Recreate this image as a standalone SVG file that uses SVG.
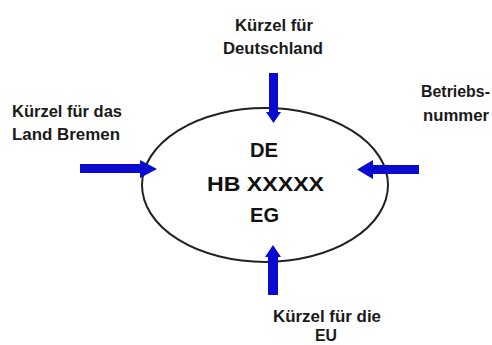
<svg xmlns="http://www.w3.org/2000/svg" width="492" height="345" viewBox="0 0 492 345">
<defs>
<style>
.lbl{font-family:"Liberation Sans",Arial,sans-serif;font-weight:bold;font-size:16px;fill:#1a1a1a;}
.ctr{font-family:"Liberation Sans",Arial,sans-serif;font-weight:bold;font-size:21px;fill:#111;text-anchor:middle;}
.arr{fill:#0a0ad0;}
</style>
</defs>
<rect width="492" height="345" fill="#fff"/>
<g id="node-plate">
<ellipse cx="265" cy="185" rx="123" ry="77" fill="none" stroke="#222" stroke-width="2"/>
<text class="ctr" x="264" y="157" textLength="28" lengthAdjust="spacingAndGlyphs">DE</text>
<text class="ctr" x="265.5" y="191" textLength="117" lengthAdjust="spacingAndGlyphs">HB XXXXX</text>
<text class="ctr" x="264.5" y="222" textLength="29" lengthAdjust="spacingAndGlyphs">EG</text>
</g>
<g id="node-de">
<text class="lbl" x="235" y="31" textLength="78" lengthAdjust="spacingAndGlyphs">Kürzel für</text>
<text class="lbl" x="223" y="54" textLength="100" lengthAdjust="spacingAndGlyphs">Deutschland</text>
</g>
<g id="node-hb">
<text class="lbl" x="12" y="117" textLength="110" lengthAdjust="spacingAndGlyphs">Kürzel für das</text>
<text class="lbl" x="12" y="140" textLength="108" lengthAdjust="spacingAndGlyphs">Land Bremen</text>
</g>
<g id="node-nr">
<text class="lbl" x="421" y="97" textLength="69" lengthAdjust="spacingAndGlyphs">Betriebs-</text>
<text class="lbl" x="423" y="121" textLength="66" lengthAdjust="spacingAndGlyphs">nummer</text>
</g>
<g id="node-eg">
<text class="lbl" x="273" y="322" textLength="108" lengthAdjust="spacingAndGlyphs">Kürzel für die</text>
<text class="lbl" x="315" y="341" textLength="22" lengthAdjust="spacingAndGlyphs">EU</text>
</g>
<g id="connectors">
<polygon class="arr" points="269,73 278,73 278,112 281,112 273.5,123 266,112 269,112"/>
<polygon class="arr" points="268,295 278,295 278,257 281,257 273,245 265,257 268,257"/>
<polygon class="arr" points="80,164 140,164 140,160 157,169 140,178 140,173 80,173"/>
<polygon class="arr" points="419,165 373,165 373,160 357,169.5 373,179 373,174 419,174"/>
</g>
</svg>
